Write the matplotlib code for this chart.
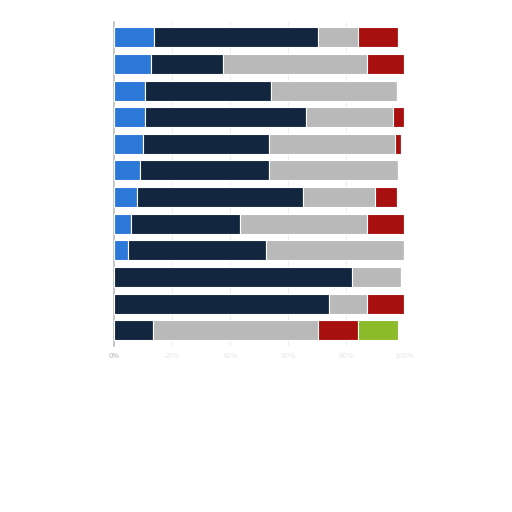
import matplotlib
matplotlib.use("Agg")
import matplotlib.pyplot as plt
import numpy as np

categories = [f"Row {i}" for i in range(1, 13)]
seg_blue  = [13.9, 12.7, 10.6, 10.6, 9.9, 9.0, 8.1, 5.9, 4.8, 0.0, 0.0, 0.0]
seg_navy  = [56.6, 24.9, 43.7, 55.6, 43.6, 44.5, 57.1, 37.5, 47.5, 82.0, 74.1, 13.6]
seg_gray  = [13.8, 49.6, 43.4, 30.0, 43.4, 44.3, 24.8, 43.8, 47.6, 16.9, 13.0, 56.9]
seg_red   = [13.6, 12.8, 0.0, 3.7, 2.0, 0.0, 7.7, 12.8, 0.0, 0.0, 12.8, 13.7]
seg_green = [0.0, 0.0, 0.0, 0.0, 0.0, 0.0, 0.0, 0.0, 0.0, 0.0, 0.0, 13.6]
tick_vals = [0, 20, 40, 60, 80, 100]
tick_labels = ["0%", "20%", "40%", "60%", "80%", "100%"]

series = [seg_blue, seg_navy, seg_gray, seg_red, seg_green]
colors = ["#2b78d9", "#13263f", "#b9b9b9", "#a81010", "#8bbb2b"]

fig = plt.figure(figsize=(5.12, 5.12), dpi=100)
ax = fig.add_axes([114/512, (512-346)/512, 290/512, 324/512])

y = np.arange(len(categories))
left = np.zeros(len(categories))
for vals, c in zip(series, colors):
    v = np.array(vals)
    ax.barh(y, v, left=left, height=0.75, color=c, edgecolor="white",
            linewidth=0.8, zorder=3)
    left += v

ax.set_xlim(0, 100)
ax.set_ylim(11.59, -0.575)
ax.set_yticks(y)
ax.set_yticklabels([])
ax.tick_params(axis="y", length=0)
ax.set_xticks(tick_vals)
ax.set_xticklabels(tick_labels, fontsize=5, color="#e6e6e6")
ax.get_xticklabels()[0].set_color("#b0b0b0")
ax.tick_params(axis="x", length=0, pad=5)
ax.grid(axis="x", color="#eeeeee", linewidth=0.8, zorder=0)
for s in ["top", "right", "bottom"]:
    ax.spines[s].set_visible(False)
ax.spines["left"].set_color("#bdbdbd")
ax.spines["left"].set_linewidth(1.2)

fig.savefig("out.png", dpi=100, facecolor="white")
